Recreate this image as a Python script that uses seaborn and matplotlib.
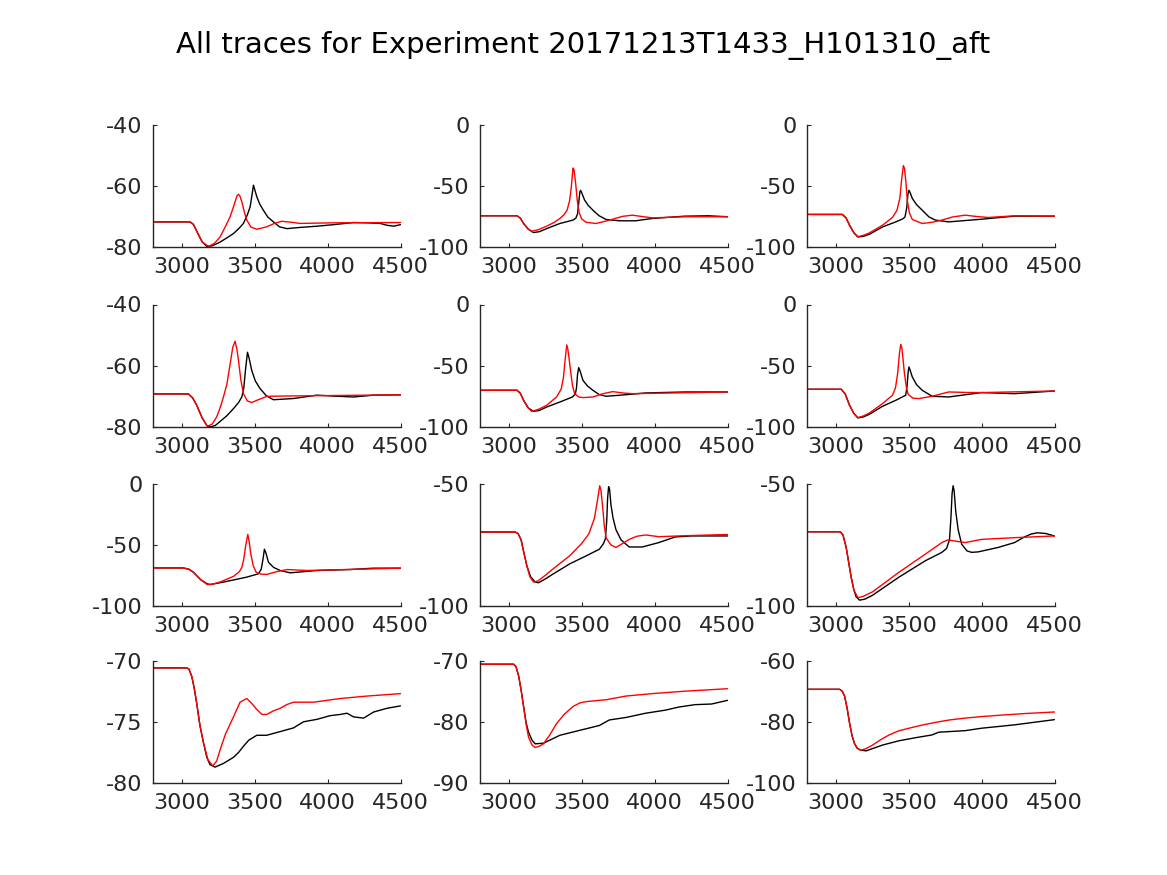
import matplotlib
matplotlib.use("Agg")
import matplotlib.pyplot as plt
import seaborn as sns

# ---------------- data (time in ms, voltage in mV) ----------------
p1_t_exp = [2800, 3057, 3080, 3110, 3140, 3172, 3210, 3263, 3310, 3355, 3395, 3423, 3450, 3469, 3482, 3492, 3502, 3515, 3535, 3560, 3590, 3629, 3670, 3721, 3812, 3927, 4041, 4178, 4270, 4361, 4407, 4453, 4500]
p1_v_exp = [-71.8, -71.8, -72.6, -75.5, -78.3, -79.8, -79.6, -78.4, -77.0, -75.6, -73.8, -72.3, -69.5, -66.9, -63.0, -59.8, -61.5, -63.6, -66.0, -68.0, -70.2, -71.8, -73.4, -74.0, -73.6, -73.2, -72.7, -72.0, -72.1, -72.3, -72.9, -73.2, -72.7]
p1_t_mod = [2800, 3057, 3080, 3110, 3140, 3183, 3225, 3263, 3300, 3332, 3352, 3366, 3380, 3389, 3400, 3412, 3430, 3446, 3475, 3515, 3583, 3640, 3686, 3750, 3812, 4041, 4500]
p1_v_mod = [-71.8, -71.8, -72.6, -75.5, -78.3, -79.8, -78.8, -76.7, -73.3, -70.1, -67.3, -65.2, -63.2, -62.8, -63.5, -65.2, -68.7, -71.2, -73.5, -74.2, -73.4, -72.2, -71.6, -71.9, -72.3, -72.1, -72.0]

p2_t_exp = [2800, 3057, 3080, 3102, 3135, 3170, 3210, 3260, 3351, 3441, 3460, 3472, 3482, 3488, 3493, 3500, 3520, 3545, 3577, 3620, 3667, 3758, 3871, 3984, 4210, 4369, 4500]
p2_v_exp = [-74.5, -74.5, -76.5, -80.8, -85.5, -88.2, -87.5, -85.0, -80.8, -78.0, -76.5, -73.0, -61.6, -55.0, -53.7, -55.5, -61.6, -66.0, -69.9, -74.5, -77.5, -78.6, -78.6, -76.7, -74.8, -74.5, -75.3]
p2_t_mod = [2800, 3057, 3080, 3102, 3130, 3158, 3200, 3260, 3310, 3351, 3380, 3400, 3418, 3430, 3441, 3448, 3459, 3470, 3482, 3500, 3530, 3599, 3660, 3713, 3780, 3848, 3920, 3984, 4210, 4500]
p2_v_mod = [-74.5, -74.5, -76.5, -80.8, -85.0, -87.1, -86.0, -83.0, -80.0, -76.7, -73.5, -70.0, -62.0, -50.0, -35.5, -37.0, -48.0, -62.0, -71.5, -77.0, -79.8, -80.8, -79.0, -77.3, -75.0, -74.0, -75.2, -76.2, -75.3, -75.3]

p3_t_exp = [2800, 3045, 3070, 3095, 3125, 3152, 3190, 3231, 3321, 3412, 3460, 3475, 3487, 3495, 3502, 3510, 3525, 3555, 3593, 3640, 3683, 3774, 4000, 4226, 4500]
p3_v_exp = [-73.4, -73.4, -76.0, -82.2, -88.5, -91.8, -91.3, -89.6, -83.6, -79.5, -77.0, -75.5, -68.0, -57.0, -53.7, -55.5, -60.3, -65.5, -69.9, -75.5, -78.0, -79.5, -77.3, -74.8, -74.8]
p3_t_mod = [2800, 3045, 3070, 3095, 3125, 3152, 3190, 3231, 3321, 3389, 3420, 3440, 3452, 3464, 3472, 3482, 3491, 3505, 3525, 3593, 3660, 3728, 3800, 3887, 3960, 4045, 4226, 4500]
p3_v_mod = [-73.4, -73.4, -76.0, -82.2, -88.5, -91.5, -90.5, -88.5, -82.2, -75.9, -70.0, -60.0, -45.0, -33.5, -36.0, -48.0, -62.0, -72.0, -77.5, -80.8, -79.8, -78.0, -75.5, -74.0, -75.0, -75.9, -74.5, -74.8]

p4_t_exp = [2800, 3046, 3075, 3103, 3140, 3172, 3194, 3230, 3263, 3310, 3355, 3390, 3412, 3425, 3438, 3451, 3462, 3480, 3505, 3538, 3580, 3629, 3766, 3927, 4041, 4178, 4316, 4500]
p4_v_exp = [-69.2, -69.2, -70.5, -72.9, -77.0, -79.5, -80.0, -79.5, -78.2, -76.3, -74.0, -72.0, -70.2, -67.5, -61.0, -55.6, -57.5, -61.5, -65.0, -67.5, -69.8, -71.1, -70.7, -69.6, -69.9, -70.2, -69.6, -69.5]
p4_t_mod = [2800, 3046, 3075, 3103, 3140, 3176, 3210, 3240, 3265, 3286, 3310, 3330, 3350, 3366, 3378, 3389, 3405, 3423, 3450, 3480, 3530, 3583, 3675, 4500]
p4_v_mod = [-69.2, -69.2, -70.5, -72.9, -77.0, -79.8, -79.0, -76.7, -73.5, -70.2, -66.0, -60.0, -54.0, -52.0, -54.5, -58.2, -64.5, -69.1, -71.5, -72.0, -71.0, -70.0, -69.9, -69.5]

p5_t_exp = [2800, 3057, 3080, 3102, 3135, 3170, 3210, 3260, 3351, 3437, 3457, 3465, 3472, 3480, 3490, 3509, 3540, 3577, 3620, 3667, 3758, 3939, 4210, 4500]
p5_v_exp = [-70.0, -70.0, -72.5, -78.2, -84.5, -87.2, -86.5, -83.7, -79.6, -75.5, -73.0, -68.0, -57.0, -51.5, -54.5, -61.9, -66.5, -70.0, -73.5, -74.9, -74.1, -72.2, -71.4, -71.4]
p5_t_mod = [2800, 3057, 3080, 3102, 3130, 3158, 3200, 3260, 3328, 3360, 3375, 3387, 3398, 3405, 3415, 3423, 3437, 3452, 3480, 3509, 3577, 3640, 3713, 3780, 3848, 4500]
p5_v_mod = [-70.0, -70.0, -72.5, -78.2, -84.0, -87.2, -85.8, -82.3, -75.5, -69.0, -60.0, -45.0, -33.0, -36.0, -45.0, -53.0, -66.0, -72.8, -75.5, -76.0, -75.5, -73.0, -71.1, -72.2, -72.8, -71.4]

p6_t_exp = [2800, 3038, 3065, 3095, 3125, 3152, 3190, 3231, 3321, 3412, 3480, 3490, 3496, 3502, 3510, 3525, 3555, 3593, 3661, 3774, 4000, 4226, 4500]
p6_v_exp = [-69.2, -69.2, -73.0, -82.3, -89.0, -92.6, -91.8, -89.6, -83.1, -78.2, -74.1, -66.0, -56.0, -51.0, -53.5, -59.1, -65.5, -70.0, -74.9, -75.5, -71.9, -72.8, -70.6]
p6_t_mod = [2800, 3038, 3065, 3095, 3125, 3152, 3190, 3231, 3321, 3389, 3410, 3425, 3437, 3446, 3453, 3462, 3470, 3485, 3498, 3530, 3570, 3661, 3774, 3900, 4000, 4500]
p6_v_mod = [-69.2, -69.2, -73.0, -82.3, -89.0, -92.3, -91.0, -88.6, -80.9, -74.1, -68.0, -56.0, -40.0, -32.5, -35.0, -45.0, -55.0, -68.0, -73.5, -76.5, -76.8, -74.9, -71.4, -71.8, -71.9, -70.6]

p7_t_exp = [2800, 3011, 3050, 3080, 3130, 3172, 3194, 3240, 3309, 3446, 3526, 3545, 3557, 3567, 3578, 3595, 3630, 3675, 3744, 3927, 4155, 4316, 4500]
p7_v_exp = [-68.9, -68.9, -70.0, -72.4, -78.5, -81.7, -82.5, -81.5, -79.9, -76.4, -73.7, -70.0, -62.0, -53.6, -57.0, -64.3, -68.5, -71.0, -72.9, -71.0, -70.2, -69.1, -69.1]
p7_t_mod = [2800, 3011, 3050, 3080, 3130, 3176, 3215, 3263, 3355, 3395, 3412, 3425, 3437, 3453, 3462, 3474, 3490, 3510, 3545, 3583, 3650, 3721, 3790, 3858, 4500]
p7_v_mod = [-68.9, -68.9, -70.0, -72.4, -78.5, -82.5, -82.0, -80.4, -75.8, -72.0, -68.5, -62.0, -52.0, -41.5, -47.0, -57.6, -67.0, -72.4, -74.0, -74.2, -72.0, -70.2, -70.6, -71.0, -69.1]

p8_t_exp = [2800, 3045, 3065, 3085, 3105, 3124, 3150, 3181, 3204, 3250, 3305, 3418, 3532, 3622, 3650, 3663, 3672, 3678, 3685, 3692, 3701, 3715, 3735, 3770, 3826, 3916, 4029, 4142, 4255, 4500]
p8_v_exp = [-69.8, -69.8, -70.5, -73.0, -78.5, -83.5, -88.0, -90.2, -90.5, -89.0, -86.9, -82.8, -79.5, -76.8, -74.5, -72.5, -65.4, -56.0, -51.3, -52.5, -58.7, -64.0, -68.8, -73.0, -75.9, -75.9, -74.1, -71.8, -71.4, -71.4]
p8_t_mod = [2800, 3045, 3065, 3085, 3105, 3124, 3145, 3170, 3200, 3250, 3305, 3418, 3500, 3550, 3588, 3608, 3624, 3633, 3645, 3655, 3667, 3700, 3735, 3780, 3826, 3880, 3939, 4029, 4210, 4500]
p8_v_mod = [-69.8, -69.8, -70.5, -73.0, -78.5, -83.5, -88.0, -90.2, -89.8, -87.5, -84.8, -79.5, -74.5, -70.5, -64.1, -57.0, -50.9, -53.0, -60.1, -67.0, -72.1, -75.0, -76.1, -74.5, -72.8, -71.5, -71.0, -71.7, -71.3, -70.8]

p9_t_exp = [2800, 3032, 3050, 3072, 3090, 3106, 3125, 3140, 3163, 3200, 3253, 3434, 3615, 3728, 3760, 3780, 3790, 3798, 3805, 3812, 3823, 3840, 3864, 3900, 3932, 3977, 4113, 4226, 4294, 4340, 4384, 4440, 4500]
p9_v_exp = [-69.7, -69.7, -71.0, -76.1, -82.5, -88.2, -93.5, -96.2, -97.6, -97.2, -95.6, -88.2, -81.5, -78.1, -76.5, -73.0, -64.0, -54.0, -50.9, -53.0, -61.4, -69.0, -74.8, -77.5, -78.1, -77.9, -76.1, -74.1, -71.8, -70.6, -70.1, -70.4, -71.4]
p9_t_mod = [2800, 3032, 3050, 3072, 3090, 3106, 3125, 3152, 3190, 3253, 3434, 3615, 3728, 3769, 3820, 3887, 4000, 4226, 4500]
p9_v_mod = [-69.7, -69.7, -71.0, -76.1, -82.5, -88.2, -93.5, -96.6, -96.0, -94.2, -86.2, -78.8, -74.1, -73.0, -73.5, -74.1, -72.8, -72.1, -71.4]

p10_t_exp = [2800, 3034, 3050, 3069, 3085, 3103, 3125, 3149, 3172, 3194, 3229, 3286, 3355, 3390, 3423, 3460, 3515, 3583, 3675, 3766, 3835, 3927, 4018, 4087, 4133, 4178, 4247, 4316, 4407, 4500]
p10_v_exp = [-70.6, -70.6, -70.7, -71.3, -72.2, -73.5, -75.3, -76.7, -77.9, -78.5, -78.7, -78.4, -77.9, -77.5, -77.0, -76.5, -76.1, -76.1, -75.8, -75.5, -75.0, -74.8, -74.5, -74.4, -74.3, -74.6, -74.7, -74.2, -73.9, -73.7]
p10_t_mod = [2800, 3034, 3050, 3069, 3085, 3103, 3125, 3149, 3180, 3213, 3240, 3263, 3300, 3355, 3400, 3446, 3480, 3515, 3550, 3583, 3630, 3675, 3720, 3766, 3904, 4087, 4270, 4500]
p10_v_mod = [-70.6, -70.6, -70.7, -71.3, -72.2, -73.5, -75.3, -76.7, -78.1, -78.6, -78.2, -77.3, -76.0, -74.6, -73.4, -73.1, -73.5, -74.0, -74.4, -74.4, -74.1, -73.9, -73.6, -73.4, -73.4, -73.1, -72.9, -72.7]

p11_t_exp = [2800, 3034, 3050, 3068, 3085, 3102, 3120, 3136, 3160, 3181, 3238, 3351, 3486, 3622, 3690, 3803, 3939, 4074, 4165, 4278, 4391, 4500]
p11_v_exp = [-70.6, -70.6, -71.0, -72.5, -74.8, -77.5, -80.2, -81.7, -83.0, -83.6, -83.5, -82.2, -81.4, -80.6, -79.7, -79.3, -78.6, -78.1, -77.6, -77.2, -77.1, -76.5]
p11_t_mod = [2800, 3034, 3050, 3068, 3085, 3102, 3120, 3136, 3160, 3181, 3210, 3238, 3280, 3328, 3380, 3441, 3490, 3532, 3667, 3803, 3984, 4210, 4500]
p11_v_mod = [-70.6, -70.6, -71.0, -72.5, -74.8, -77.5, -80.5, -82.5, -83.8, -84.2, -84.0, -83.6, -82.2, -80.3, -78.8, -77.5, -76.9, -76.7, -76.4, -75.8, -75.4, -75.0, -74.6]

p12_t_exp = [2800, 3027, 3045, 3061, 3078, 3095, 3112, 3129, 3145, 3163, 3208, 3321, 3434, 3547, 3660, 3706, 3887, 4000, 4226, 4500]
p12_v_exp = [-69.4, -69.4, -70.0, -71.6, -75.5, -80.4, -84.5, -87.1, -88.5, -89.1, -89.5, -87.6, -86.2, -85.2, -84.3, -83.4, -82.9, -82.1, -81.0, -79.3]
p12_t_mod = [2800, 3027, 3045, 3061, 3078, 3095, 3112, 3129, 3150, 3174, 3210, 3253, 3310, 3366, 3430, 3502, 3590, 3683, 3780, 3887, 4000, 4113, 4300, 4500]
p12_v_mod = [-69.4, -69.4, -70.0, -71.6, -75.5, -80.4, -84.5, -87.1, -88.7, -89.3, -88.7, -87.6, -85.8, -84.3, -83.0, -82.1, -81.1, -80.2, -79.4, -78.8, -78.3, -77.9, -77.3, -76.8]

y_limits = [(-80, -40), (-100, 0), (-100, 0),
            (-80, -40), (-100, 0), (-100, 0),
            (-100, 0), (-100, -50), (-100, -50),
            (-80, -70), (-90, -70), (-100, -60)]
y_ticks = [[-80, -60, -40], [-100, -50, 0], [-100, -50, 0],
           [-80, -60, -40], [-100, -50, 0], [-100, -50, 0],
           [-100, -50, 0], [-100, -50], [-100, -50],
           [-80, -75, -70], [-90, -80, -70], [-100, -80, -60]]
x_ticks = [3000, 3500, 4000, 4500]
title_text = "All traces for Experiment 20171213T1433_H101310_aft"

panels = [
    (p1_t_exp, p1_v_exp, p1_t_mod, p1_v_mod),
    (p2_t_exp, p2_v_exp, p2_t_mod, p2_v_mod),
    (p3_t_exp, p3_v_exp, p3_t_mod, p3_v_mod),
    (p4_t_exp, p4_v_exp, p4_t_mod, p4_v_mod),
    (p5_t_exp, p5_v_exp, p5_t_mod, p5_v_mod),
    (p6_t_exp, p6_v_exp, p6_t_mod, p6_v_mod),
    (p7_t_exp, p7_v_exp, p7_t_mod, p7_v_mod),
    (p8_t_exp, p8_v_exp, p8_t_mod, p8_v_mod),
    (p9_t_exp, p9_v_exp, p9_t_mod, p9_v_mod),
    (p10_t_exp, p10_v_exp, p10_t_mod, p10_v_mod),
    (p11_t_exp, p11_v_exp, p11_t_mod, p11_v_mod),
    (p12_t_exp, p12_v_exp, p12_t_mod, p12_v_mod),
]

# ---------------- style ----------------
sns.set_style("ticks")
plt.rcParams['font.family'] = ['DejaVu Sans']
text_col = "#262626"

fig = plt.figure(figsize=(11.67, 8.75), dpi=100)
fig.patch.set_facecolor("white")

lefts = [0.1307, 0.4109, 0.6911]
bottoms = [0.7177, 0.5120, 0.3074, 0.1051]
width = 0.2125
height = 0.1400

for i, (tx, vx, tm, vm) in enumerate(panels):
    r, c = divmod(i, 3)
    ax = fig.add_axes([lefts[c], bottoms[r], width, height])
    sns.lineplot(x=tx, y=vx, ax=ax, color="black", linewidth=1.0, sort=False, estimator=None)
    sns.lineplot(x=tm, y=vm, ax=ax, color="red", linewidth=1.0, sort=False, estimator=None)
    lo, hi = y_limits[i]
    ax.set_xlim(2800, 4500)
    ax.set_ylim(lo, hi)
    ax.set_xticks(x_ticks)
    ax.set_yticks(y_ticks[i])
    ax.set_xticklabels([str(t) for t in x_ticks])
    ax.set_yticklabels([str(v) for v in y_ticks[i]])
    for s in ["top", "right"]:
        ax.spines[s].set_visible(False)
    for s in ["left", "bottom"]:
        ax.spines[s].set_color(text_col)
        ax.spines[s].set_linewidth(1.0)
    ax.tick_params(direction="in", length=3, width=0.8, colors=text_col,
                   labelsize=16, pad=7, labelcolor=text_col)
    ax.set_xlabel("")
    ax.set_ylabel("")

fig.text(0.5, 0.948, title_text, ha="center", va="center", fontsize=21, color="black")

fig.savefig("out.png", dpi=100, facecolor="white")
